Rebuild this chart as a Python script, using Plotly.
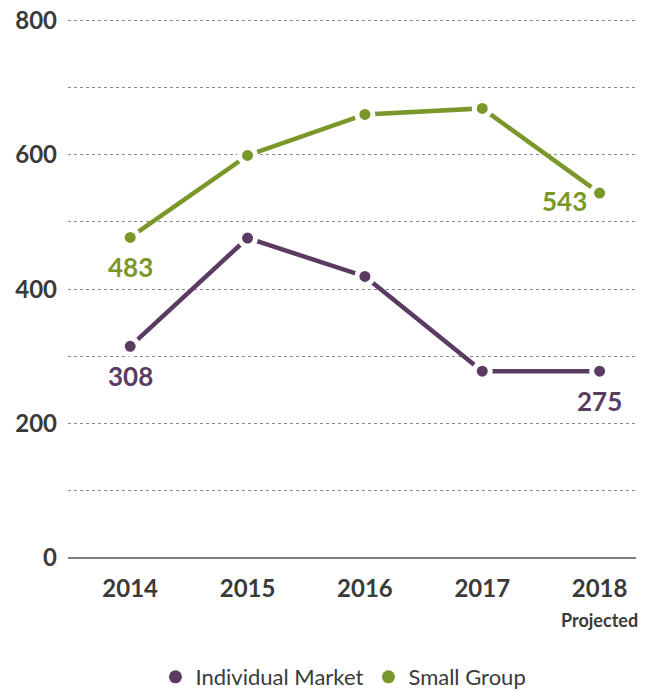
import plotly.graph_objects as go

years = ["2014", "2015", "2016", "2017", "2018"]
individual = [315, 476, 419, 278, 278]
small_group = [477, 599, 660, 669, 543]
individual_labels = ["308", "", "", "", "275"]
small_group_labels = ["483", "", "", "", "543"]
y_ticks = [0, 200, 400, 600, 800]

PURPLE = "#5b3b61"
GREEN = "#7a982a"
TEXT = "#3a3a3a"
FONT = "Lato"

fig = go.Figure()
for name, vals, col in [("Individual Market", individual, PURPLE),
                        ("Small Group", small_group, GREEN)]:
    fig.add_trace(go.Scatter(
        x=list(range(len(years))), y=vals, mode="lines+markers",
        line=dict(color=col, width=4.5),
        marker=dict(color=col, size=16, line=dict(color="white", width=5)),
        showlegend=False, hoverinfo="skip", cliponaxis=False))
for name, col in [("Individual Market", PURPLE), ("Small Group", GREEN)]:
    fig.add_trace(go.Scatter(
        x=[None], y=[None], mode="markers", name=name,
        marker=dict(color=col, size=13)))

ann = []
for i, (v, t) in enumerate(zip(small_group, small_group_labels)):
    if t:
        ann.append(dict(x=i, y=v, text=t, showarrow=False,
                        xshift=-35 if i == 4 else 0, yshift=-30 if i == 0 else -8,
                        font=dict(family=FONT, size=26, color=GREEN, weight="bold")))
for i, (v, t) in enumerate(zip(individual, individual_labels)):
    if t:
        ann.append(dict(x=i, y=v, text=t, showarrow=False, yshift=-30,
                        font=dict(family=FONT, size=26, color=PURPLE, weight="bold")))
ann.append(dict(x=4, y=0, xref="x", yref="paper", yanchor="middle", yshift=-62,
                text="Projected", showarrow=False,
                font=dict(family=FONT, size=18, color=TEXT, weight="bold")))

fig.update_layout(
    width=646, height=692,
    margin=dict(l=68, r=10, t=17, b=134, autoexpand=False),
    plot_bgcolor="white", paper_bgcolor="white",
    annotations=ann,
    legend=dict(orientation="h", x=0.485, xanchor="center",
                yref="container", y=(692 - 677) / 692, yanchor="middle",
                font=dict(family=FONT, size=22, color=TEXT), itemwidth=30,
                tracegroupgap=0),
    xaxis=dict(tickmode="array", tickvals=list(range(len(years))), ticktext=years,
               range=[-0.53, 4.31], showgrid=False, zeroline=False,
               showline=False, ticks="", ticklabelstandoff=14,
               tickfont=dict(family=FONT, size=24, color=TEXT, weight="bold")),
    yaxis=dict(range=[0, 805], tickvals=y_ticks, showgrid=True,
               gridcolor="#888888", griddash="dot", gridwidth=1,
               zeroline=True, zerolinecolor="#808080", zerolinewidth=2,
               ticks="", ticklabelstandoff=10,
               tickfont=dict(family=FONT, size=24, color=TEXT, weight="bold")),
)
fig.update_yaxes(minor=dict(tickvals=[100, 300, 500, 700], showgrid=True,
                            gridcolor="#888888", griddash="dot", gridwidth=1))
fig.write_html("out.html")
